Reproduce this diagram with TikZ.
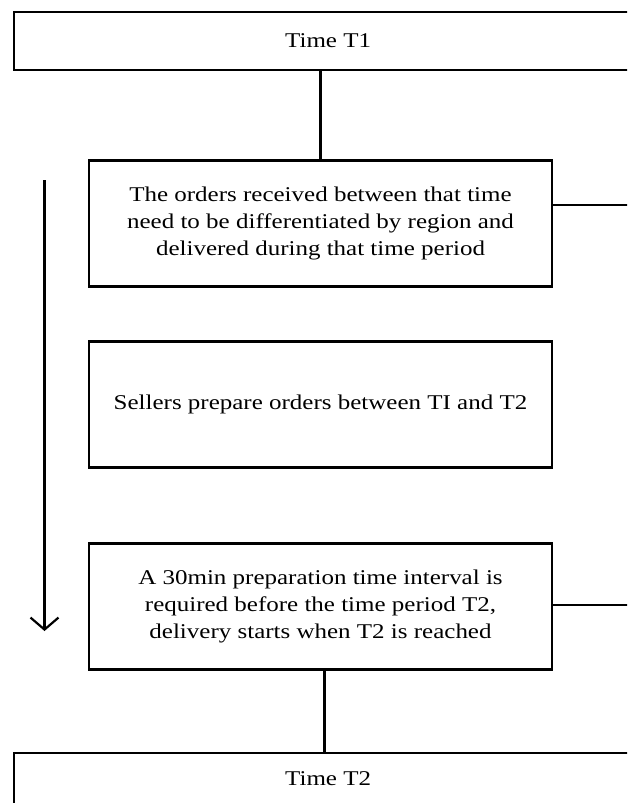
\documentclass[tikz,border=0pt]{standalone}
\usepackage{fontspec}
\setmainfont{Liberation Serif}[FakeStretch=1.19]
\usetikzlibrary{arrows.meta}
\begin{document}
\begin{tikzpicture}[x=1pt,y=-1pt,
  box/.style={draw, line width=2.2pt, align=center, inner sep=0pt,
    font=\fontsize{21}{27}\selectfont},
  stepbox/.style={box, minimum width=463pt, minimum height=126pt},
  timebox/.style={box, minimum width=628pt, anchor=north west},
  link/.style={line width=2.2pt}]
\clip (0,0) rectangle (627,803);
\fill[white] (0,0) rectangle (627,803);
\node[timebox, minimum height=58pt] (t1) at (13,11) {Time T1};
\node[stepbox] (b1) at (320.5,223.5) {The orders received between that time\\need to be differentiated by region and\\delivered during that time period};
\node[stepbox] (b2) at (320.5,404.5) {Sellers prepare orders between TI and T2};
\node[stepbox] (b3) at (320.5,606.5) {A 30min preparation time interval is\\required before the time period T2,\\delivery starts when T2 is reached};
\node[timebox, minimum height=52pt] (t2) at (13,752) {Time T2};
\coordinate (r1) at (640,205);
\coordinate (r3) at (640,605);
\coordinate (as) at (44.5,180);
\coordinate (ae) at (44.5,631);
\draw[link] (b1.north |- t1.south) -- (b1.north);
\draw[link] ([xshift=4pt]b3.south) -- ([xshift=4pt]b3.south |- t2.north);
\draw[link] (b1.east |- r1) -- (r1);
\draw[link] (b3.east |- r3) -- (r3);
\draw[link, -{Straight Barb[length=12pt,width=28pt]}] (as) -- (ae);
\end{tikzpicture}
\end{document}
